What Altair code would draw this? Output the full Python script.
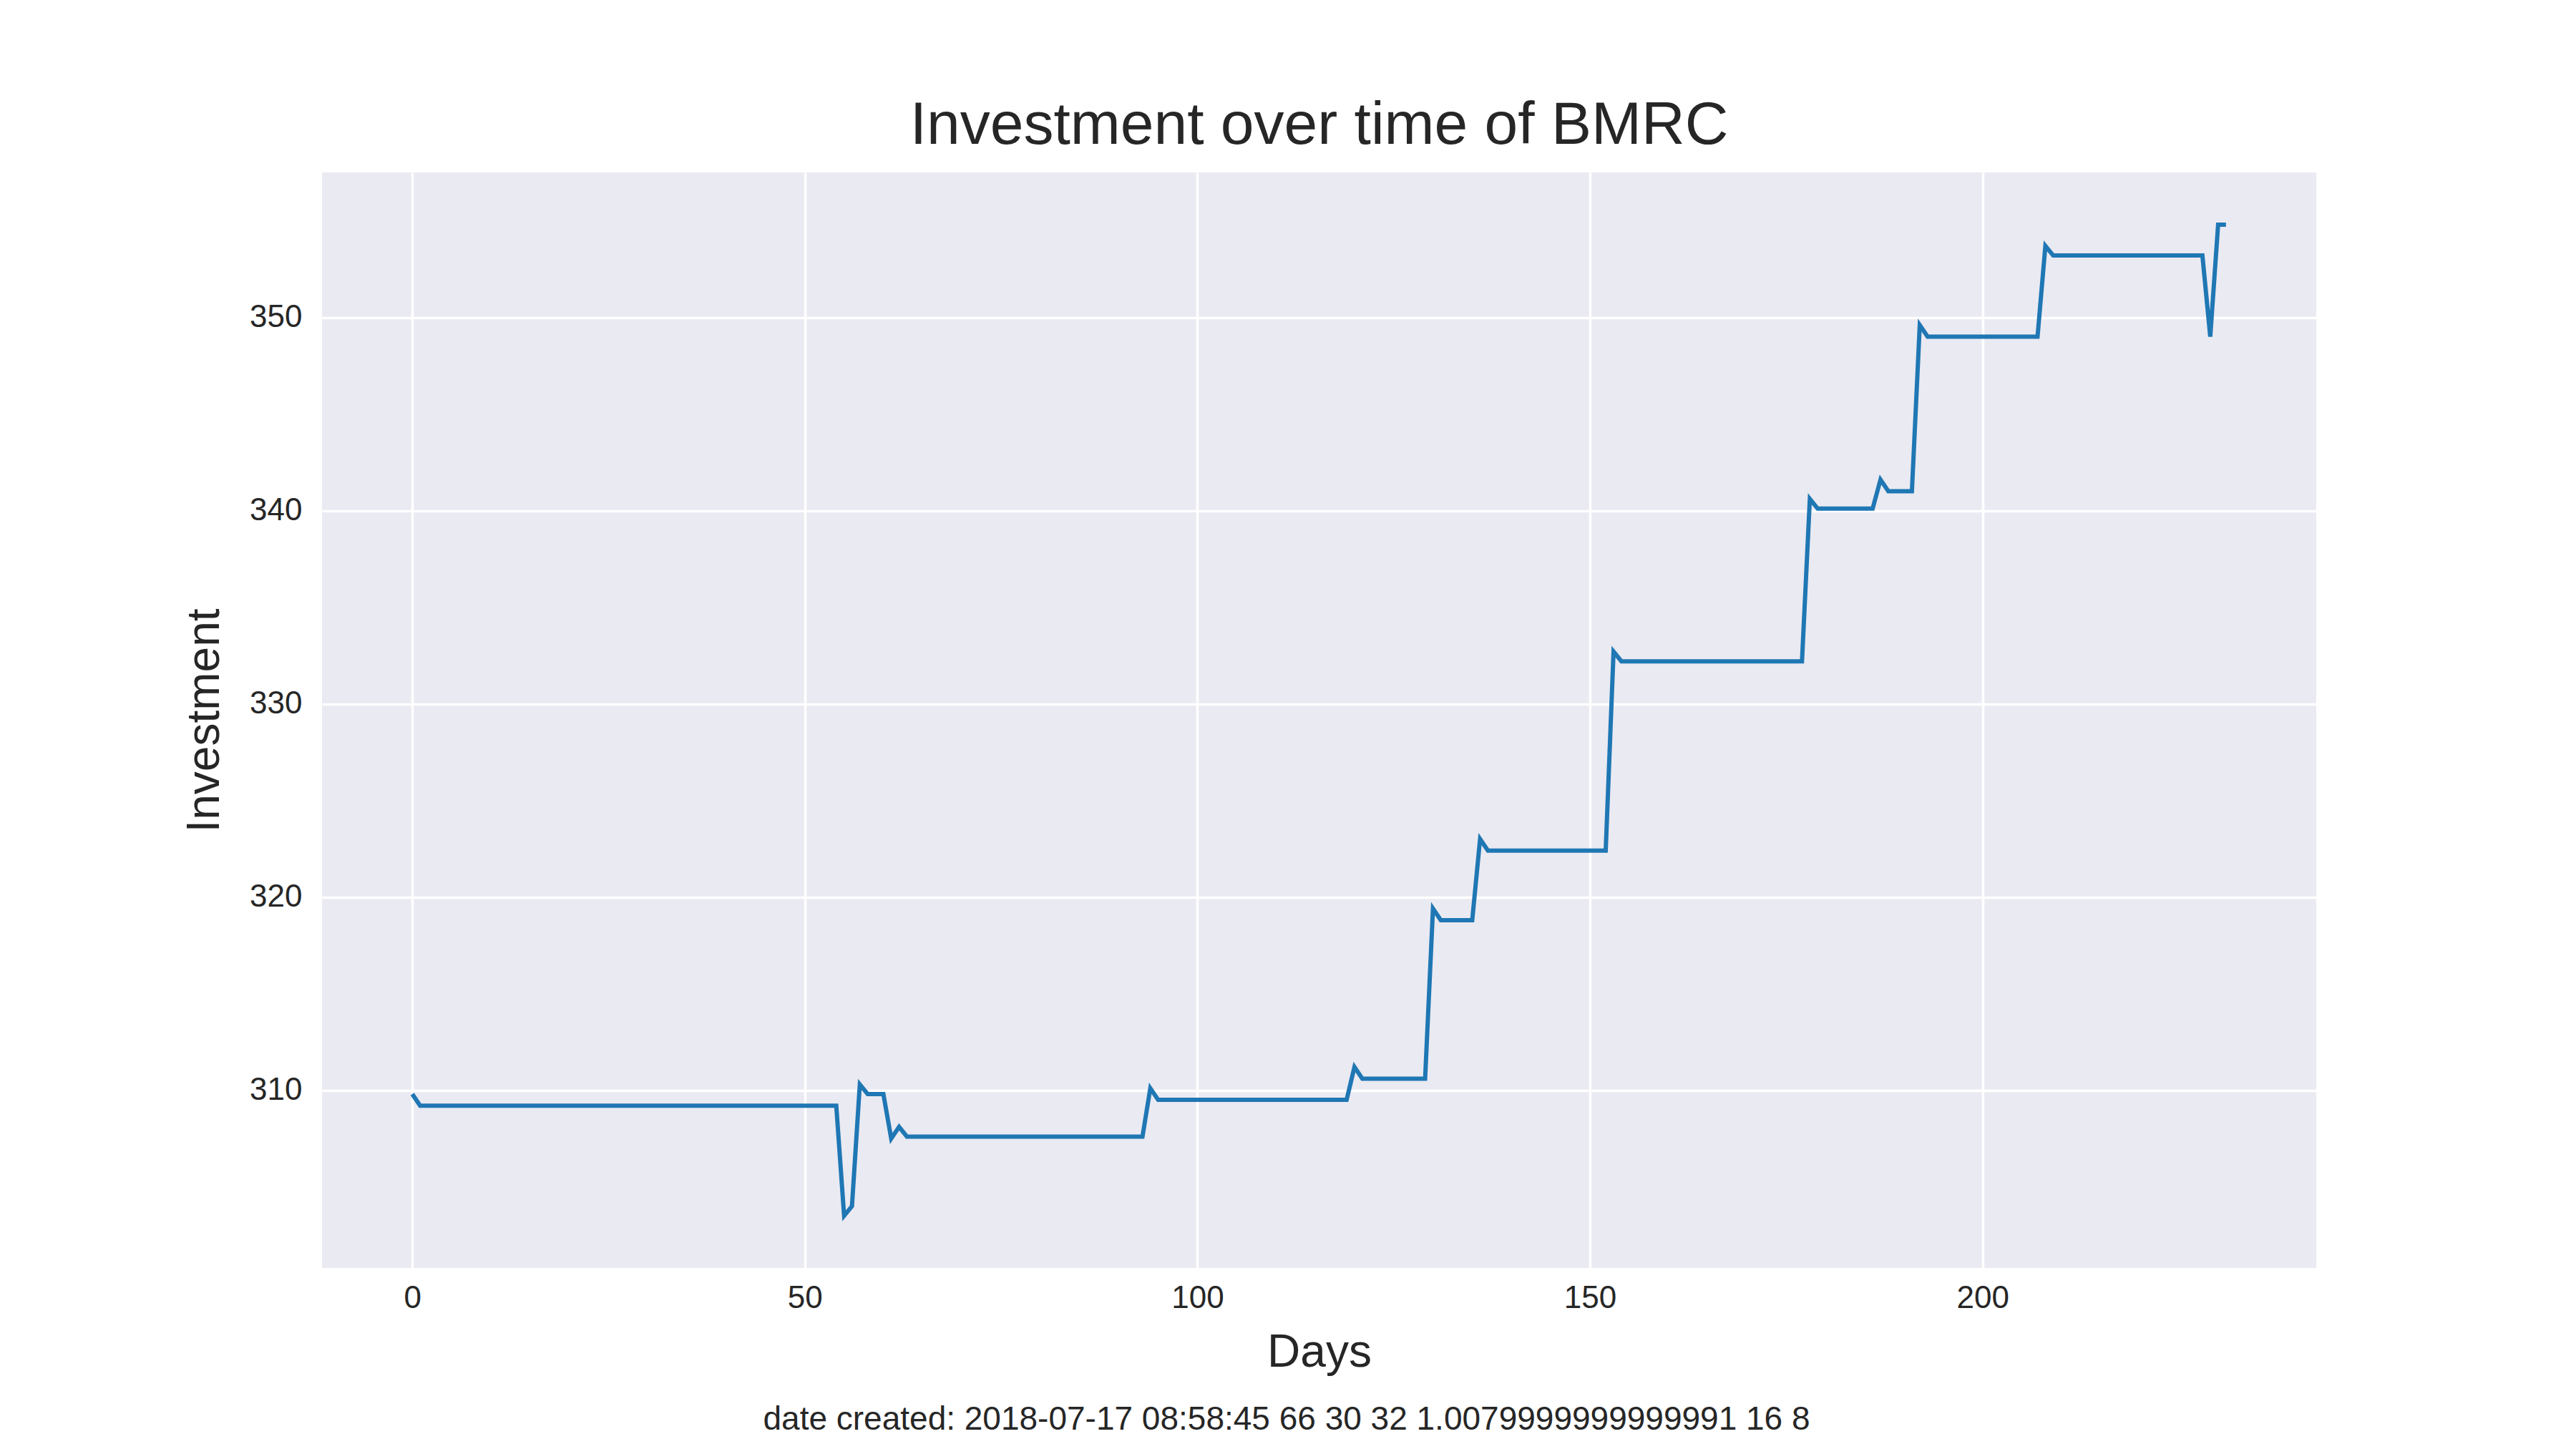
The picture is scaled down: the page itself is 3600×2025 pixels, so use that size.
import altair as alt
import pandas as pd

days = [0, 1, 54, 55, 56, 57, 58, 60, 61, 62, 63, 93, 94, 95, 119, 120, 121, 129, 130, 131, 135,
        136, 137, 152, 153, 154, 177, 178, 179, 186, 187, 188, 191, 192, 193, 207, 208, 209, 228,
        229, 230, 231]
investment = [309.8, 309.2, 309.2, 303.5, 304.0, 310.3, 309.8, 309.8, 307.5, 308.1, 307.6, 307.6,
              310.1, 309.5, 309.5, 311.2, 310.6, 310.6, 319.4, 318.8, 318.8, 323.0, 322.4, 322.4,
              332.7, 332.2, 332.2, 340.6, 340.1, 340.1, 341.6, 341.0, 341.0, 349.6, 349.0, 349.0,
              353.7, 353.2, 353.2, 349.0, 354.8, 354.8]
footer = "date created: 2018-07-17 08:58:45 66 30 32 1.0079999999999991 16 8"

df = pd.DataFrame({"Days": days, "Investment": investment})

line = alt.Chart(df).mark_line(color="#1f77b4", strokeWidth=6, clip=True).encode(
    x=alt.X("Days:Q", scale=alt.Scale(domain=[-11.5, 242.5], nice=False, zero=False),
            axis=alt.Axis(values=[0, 50, 100, 150, 200], title="Days")),
    y=alt.Y("Investment:Q", scale=alt.Scale(domain=[300.8, 357.5], nice=False, zero=False),
            axis=alt.Axis(values=[310, 320, 330, 340, 350], title="Investment")),
)

foot = alt.Chart(pd.DataFrame({"t": [footer]})).mark_text(
    fontSize=46, font="Liberation Sans", color="#262626", baseline="middle", align="center"
).encode(text="t:N", x=alt.value(1348), y=alt.value(1743))

chart = alt.layer(line, foot).properties(
    width=2787, height=1531,
    title=alt.TitleParams("Investment over time of BMRC", fontSize=84, font="Liberation Sans",
                          fontWeight="normal", color="#262626", offset=22),
    autosize=alt.AutoSizeParams(type="none"),
    padding={"left": 442, "top": 233, "right": 350, "bottom": 250},
).configure_view(fill="#EAEAF2", stroke=None).configure_axis(
    grid=True, gridColor="white", gridWidth=3.5, domain=False, ticks=False,
    labelFont="Liberation Sans", labelFontSize=44, labelColor="#262626",
    titleFont="Liberation Sans", titleFontSize=64, titleFontWeight="normal", titleColor="#262626",
).configure_axisX(labelPadding=20, titlePadding=22).configure_axisY(labelPadding=28, titlePadding=30)

chart.save("out.html", embed_options={"renderer": "svg", "actions": False})
